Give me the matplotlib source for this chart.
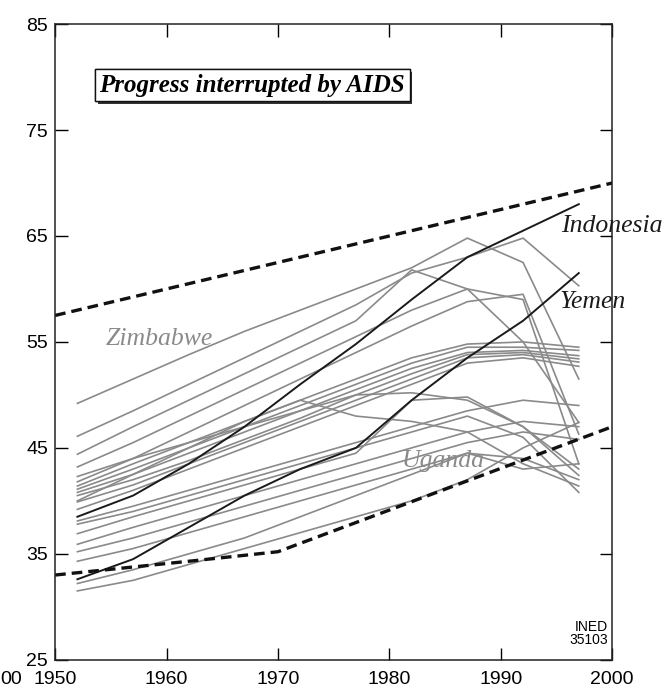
import matplotlib
matplotlib.use("Agg")
from matplotlib import pyplot as plt
import matplotlib.patheffects as pe

# five-year period midpoints
years = [1952, 1957, 1962, 1967, 1972, 1977, 1982, 1987, 1992, 1997]

# grey countries (life expectancy, both sexes)
grey_lines = [
    [49.2, 51.5, 53.8, 56.0, 58.0, 60.0, 62.0, 64.8, 62.5, 51.5],
    [46.1, 48.5, 51.0, 53.5, 56.0, 58.5, 61.5, 63.0, 64.8, 60.3],
    [44.4, 47.0, 49.5, 52.0, 54.5, 57.0, 61.8, 60.0, 55.0, 47.4],
    [43.2, 45.5, 48.0, 50.5, 53.0, 55.5, 58.0, 60.0, 59.0, 43.5],
    [41.8, 44.0, 46.5, 49.0, 51.5, 54.0, 56.5, 58.8, 59.5, 46.3],
    [41.4, 43.5, 45.5, 47.5, 49.5, 51.5, 53.5, 54.8, 55.0, 54.5],
    [41.1, 43.0, 45.0, 47.0, 49.0, 51.0, 53.0, 54.5, 54.5, 54.2],
    [40.8, 42.5, 44.5, 46.5, 48.5, 50.5, 52.5, 54.0, 54.2, 53.7],
    [40.5, 42.0, 43.8, 45.8, 47.8, 50.0, 52.0, 53.8, 54.0, 53.4],
    [39.9, 41.5, 43.5, 45.5, 47.5, 49.5, 51.5, 53.5, 53.8, 53.1],
    [39.2, 41.0, 43.0, 45.0, 47.0, 49.0, 51.0, 53.0, 53.5, 52.7],
    [42.3, 44.0, 45.5, 47.0, 48.5, 50.0, 50.2, 49.5, 47.0, 42.4],
    [40.0, 42.5, 45.0, 47.5, 49.5, 48.0, 47.5, 46.5, 43.5, 41.4],
    [38.1, 39.5, 41.0, 42.5, 44.0, 45.5, 47.0, 48.5, 49.5, 49.0],
    [37.8, 39.0, 40.5, 42.0, 43.5, 45.0, 46.5, 48.0, 46.0, 40.8],
    [36.9, 38.5, 40.0, 41.5, 43.0, 44.5, 49.5, 49.8, 47.0, 43.0],
    [35.9, 37.5, 39.0, 40.5, 42.0, 43.5, 45.0, 46.5, 47.5, 47.0],
    [35.2, 36.5, 38.0, 39.5, 41.0, 42.5, 44.0, 45.5, 46.5, 45.8],
    [34.3, 35.5, 37.0, 38.5, 40.0, 41.5, 43.0, 44.5, 43.0, 43.5],
    [32.2, 33.5, 35.0, 36.5, 38.5, 40.5, 42.5, 44.5, 44.0, 42.0],
    [31.5, 32.5, 34.0, 35.5, 37.0, 38.5, 40.0, 42.0, 45.0, 47.4],
]

indonesia = [38.5, 40.5, 43.5, 47.0, 51.0, 54.8, 59.0, 63.0, 65.5, 68.0]
yemen = [32.6, 34.5, 37.5, 40.5, 43.0, 45.0, 49.5, 53.5, 57.0, 61.5]

# envelope (dashed)
upper_years = [1950, 2000]
upper_vals = [57.5, 70.0]
lower_years = [1950, 1962, 1970, 2000]
lower_vals = [33.0, 34.3, 35.2, 47.0]

xticks = [1950, 1960, 1970, 1980, 1990, 2000]
yticks = [25, 35, 45, 55, 65, 75, 85]

fig = plt.figure(figsize=(6.64, 6.88), dpi=100)
ax = fig.add_axes([0.083, 0.041, 0.839, 0.924])

grey = "#8a8a8a"
for vals in grey_lines:
    ax.plot(years, vals, color=grey, lw=1.2)
ax.plot(years, indonesia, color="#1a1a1a", lw=1.4)
ax.plot(years, yemen, color="#1a1a1a", lw=1.4)

ax.plot(upper_years, upper_vals, color="#111111", lw=2.4, dashes=(3.2, 1.8))
ax.plot(lower_years, lower_vals, color="#111111", lw=2.4, dashes=(3.2, 1.8))

ax.set_xlim(1950, 2000)
ax.set_ylim(25, 85)
ax.set_xticks(xticks)
ax.set_yticks(yticks)
ax.tick_params(direction="in", length=9, width=1, top=True, right=True,
               labelsize=14)
ax.tick_params(axis="x", pad=8)
ax.tick_params(axis="y", pad=5)
for lab in ax.get_xticklabels() + ax.get_yticklabels():
    lab.set_family(["Liberation Sans", "DejaVu Sans"])
for s in ax.spines.values():
    s.set_linewidth(1.1)
    s.set_color("#222222")

serif = ["Liberation Serif", "DejaVu Serif"]
ax.text(1954.5, 55.3, "Zimbabwe", color=grey, fontsize=18.5, style="italic",
        family=serif, va="center", ha="left")
ax.text(1981.1, 43.8, "Uganda", color=grey, fontsize=18.5, style="italic",
        family=serif, va="center", ha="left")
ax.text(1995.4, 65.9, "Indonesia", color="#1a1a1a", fontsize=18.5, style="italic",
        family=serif, va="center", ha="left", clip_on=False)
ax.text(1995.3, 58.8, "Yemen", color="#1a1a1a", fontsize=18.5, style="italic",
        family=serif, va="center", ha="left", clip_on=False)

t = ax.text(0.354, 0.904, "Progress interrupted by AIDS", transform=ax.transAxes,
            fontsize=18, style="italic", weight="bold", family=serif,
            ha="center", va="center",
            bbox=dict(boxstyle="square,pad=0.18", fc="white", ec="#111111", lw=1))
t.get_bbox_patch().set_path_effects([
    pe.withSimplePatchShadow(offset=(2, -2), shadow_rgbFace="#333333", alpha=1),
    pe.Normal()])

ax.text(0.993, 0.02, "INED\n35103", transform=ax.transAxes, fontsize=10,
        family=["Liberation Sans Narrow", "Liberation Sans", "DejaVu Sans"],
        ha="right", va="bottom", linespacing=0.95)

fig.text(0.0, 0.0, "00", fontsize=14, family=["Liberation Sans", "DejaVu Sans"],
         ha="left", va="bottom")

plt.savefig("out.png", dpi=100)
